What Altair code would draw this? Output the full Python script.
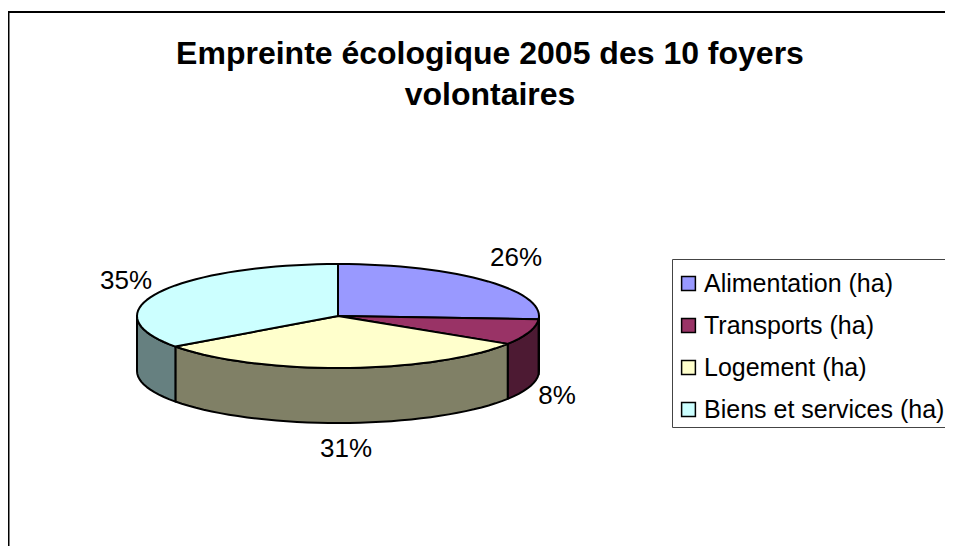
import math
import altair as alt

names = ["Alimentation (ha)", "Transports (ha)", "Logement (ha)", "Biens et services (ha)"]
shares = [26, 8, 31, 35]
top_colors = ["#9999ff", "#993366", "#ffffcc", "#ccffff"]
side_colors = ["#4d4d80", "#4d1a33", "#808066", "#668080"]
title_lines = ["Empreinte écologique 2005 des 10 foyers", "volontaires"]
FONT = "Liberation Sans"

RATIO = 52 / 201   # flattening of the disc
DEPTH = 55 / 201   # thickness of the disc


def pt(a, drop=0.0):
    r = math.radians(a)
    return [math.sin(r), -math.cos(r) * RATIO + drop]


def arc(a0, a1, drop=0.0):
    n = max(2, int(abs(a1 - a0) / 3) + 1)
    return [pt(a0 + (a1 - a0) * i / (n - 1), drop) for i in range(n)]


def feature(coords, name, dark):
    ring = coords + [coords[0]]
    return {"type": "Feature", "properties": {"name": name, "dark": dark},
            "geometry": {"type": "Polygon", "coordinates": [ring]}}


tops, sides = [], []
start = 0.0
for name, share, dark in zip(names, shares, side_colors):
    end = start + share * 3.6
    tops.append(feature([[0.0, 0.0]] + arc(start, end), name, dark))
    a0, a1 = max(start, 90.0), min(end, 270.0)
    if a1 > a0:
        sides.append(feature(arc(a0, a1) + arc(a1, a0, DEPTH), name, dark))
    start = end

proj = dict(type="identity", scale=201, translate=[330, 308])

side_layer = alt.Chart(alt.Data(values=sides)).mark_geoshape(
    stroke="#000", strokeWidth=2, strokeJoin="round"
).encode(fill=alt.Fill("properties.dark:N", scale=None, legend=None)).project(**proj)

top_layer = alt.Chart(alt.Data(values=tops)).mark_geoshape(
    stroke="#000", strokeWidth=2, strokeJoin="round"
).encode(
    color=alt.Color(
        "properties.name:N",
        scale=alt.Scale(domain=names, range=top_colors),
        legend=alt.Legend(
            title=None, orient="none", legendX=668, legendY=263,
            padding=0,
            symbolType="square", symbolSize=190, symbolStrokeColor="#000",
            symbolStrokeWidth=1.5, symbolOpacity=1,
            labelFont=FONT, labelFontSize=25, labelColor="#000",
            labelLimit=400, rowPadding=16, labelOffset=3,
        ),
    )
).project(**proj)

label_x = [508, 549, 338, 118]
label_y = [250, 388, 441, 273]
label_layers = [
    alt.Chart(alt.Data(values=[{"t": f"{s}%"}])).mark_text(
        font=FONT, fontSize=26, color="#000", align="center", baseline="middle"
    ).encode(text="t:N", x=alt.value(x), y=alt.value(y))
    for s, x, y in zip(shares, label_x, label_y)
]

frame = alt.Data(values=[{"a": 0}])
frame_top = alt.Chart(frame).mark_rule(color="#000", strokeWidth=2).encode(
    x=alt.value(0), x2=alt.value(937), y=alt.value(4))
frame_left = alt.Chart(frame).mark_rule(color="#000", strokeWidth=3).encode(
    x=alt.value(0), y=alt.value(4), y2=alt.value(538))
legend_box = alt.Chart(frame).mark_rect(fill="#fff", stroke="#444", strokeWidth=1).encode(
    x=alt.value(664.5), x2=alt.value(960), y=alt.value(251.5), y2=alt.value(419.5))

chart = alt.layer(
    frame_top, frame_left, side_layer, legend_box, top_layer, *label_layers
).properties(
    width=937, height=538, padding=0, autosize=alt.AutoSizeParams(type="none"),
    background="#fff",
    title=alt.TitleParams(
        text=title_lines, font=FONT, fontSize=32, fontWeight="bold", color="#000",
        anchor="middle", dx=13.5, dy=133, lineHeight=41, baseline="alphabetic",
    ),
).configure_view(stroke=None)

chart.save("out.html", embed_options={"renderer": "svg", "actions": False})
